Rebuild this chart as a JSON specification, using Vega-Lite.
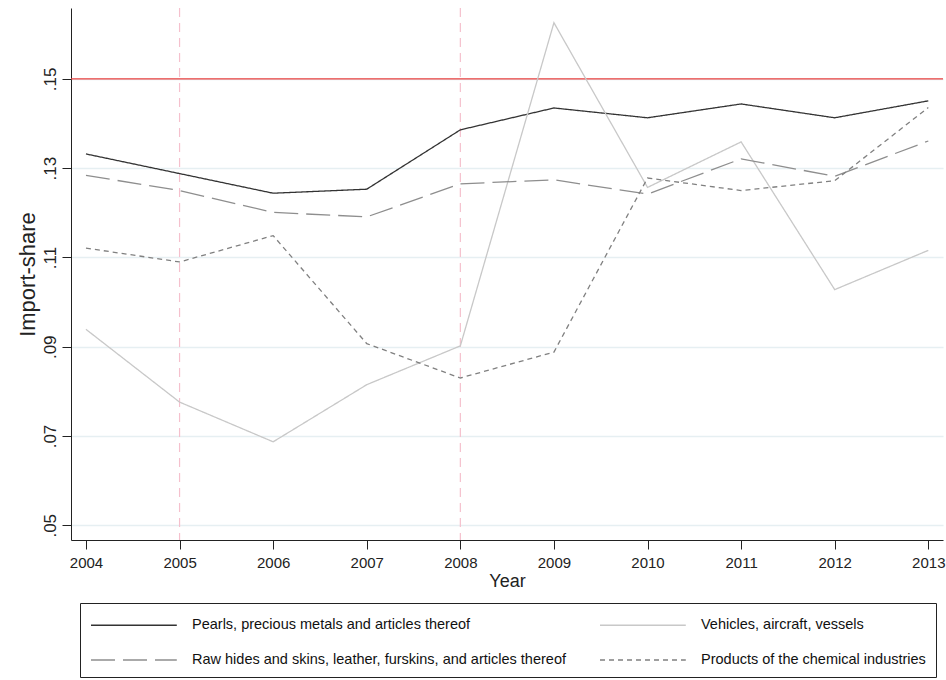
{
  "$schema": "https://vega.github.io/schema/vega-lite/v6.json",
  "width": 872,
  "height": 532,
  "autosize": {"type": "none"},
  "padding": {"left": 71, "top": 8, "right": 3, "bottom": 140},
  "background": "white",
  "config": {
    "view": {"stroke": null},
    "font": "Liberation Sans",
    "axis": {"labelColor": "#222", "titleColor": "#222", "tickColor": "#222", "domainColor": "#222", "titleFontWeight": "normal", "labelFlush": false, "labelOverlap": false}
  },
  "datasets": {
    "series": [
      {"series": "Pearls, precious metals and articles thereof", "year": 2004, "share": 0.1332},
      {"series": "Pearls, precious metals and articles thereof", "year": 2005, "share": 0.1288},
      {"series": "Pearls, precious metals and articles thereof", "year": 2006, "share": 0.1244},
      {"series": "Pearls, precious metals and articles thereof", "year": 2007, "share": 0.1253},
      {"series": "Pearls, precious metals and articles thereof", "year": 2008, "share": 0.1386},
      {"series": "Pearls, precious metals and articles thereof", "year": 2009, "share": 0.1435},
      {"series": "Pearls, precious metals and articles thereof", "year": 2010, "share": 0.1413},
      {"series": "Pearls, precious metals and articles thereof", "year": 2011, "share": 0.1444},
      {"series": "Pearls, precious metals and articles thereof", "year": 2012, "share": 0.1413},
      {"series": "Pearls, precious metals and articles thereof", "year": 2013, "share": 0.1451},
      {"series": "Vehicles, aircraft, vessels", "year": 2004, "share": 0.0939},
      {"series": "Vehicles, aircraft, vessels", "year": 2005, "share": 0.0776},
      {"series": "Vehicles, aircraft, vessels", "year": 2006, "share": 0.0687},
      {"series": "Vehicles, aircraft, vessels", "year": 2007, "share": 0.0815},
      {"series": "Vehicles, aircraft, vessels", "year": 2008, "share": 0.0902},
      {"series": "Vehicles, aircraft, vessels", "year": 2009, "share": 0.1626},
      {"series": "Vehicles, aircraft, vessels", "year": 2010, "share": 0.1257},
      {"series": "Vehicles, aircraft, vessels", "year": 2011, "share": 0.1359},
      {"series": "Vehicles, aircraft, vessels", "year": 2012, "share": 0.1028},
      {"series": "Vehicles, aircraft, vessels", "year": 2013, "share": 0.1116},
      {"series": "Raw hides and skins, leather, furskins, and articles thereof", "year": 2004, "share": 0.1284},
      {"series": "Raw hides and skins, leather, furskins, and articles thereof", "year": 2005, "share": 0.125},
      {"series": "Raw hides and skins, leather, furskins, and articles thereof", "year": 2006, "share": 0.1201},
      {"series": "Raw hides and skins, leather, furskins, and articles thereof", "year": 2007, "share": 0.1191},
      {"series": "Raw hides and skins, leather, furskins, and articles thereof", "year": 2008, "share": 0.1265},
      {"series": "Raw hides and skins, leather, furskins, and articles thereof", "year": 2009, "share": 0.1274},
      {"series": "Raw hides and skins, leather, furskins, and articles thereof", "year": 2010, "share": 0.1242},
      {"series": "Raw hides and skins, leather, furskins, and articles thereof", "year": 2011, "share": 0.1321},
      {"series": "Raw hides and skins, leather, furskins, and articles thereof", "year": 2012, "share": 0.1282},
      {"series": "Raw hides and skins, leather, furskins, and articles thereof", "year": 2013, "share": 0.1361},
      {"series": "Products of the chemical industries", "year": 2004, "share": 0.1121},
      {"series": "Products of the chemical industries", "year": 2005, "share": 0.109},
      {"series": "Products of the chemical industries", "year": 2006, "share": 0.1149},
      {"series": "Products of the chemical industries", "year": 2007, "share": 0.0907},
      {"series": "Products of the chemical industries", "year": 2008, "share": 0.083},
      {"series": "Products of the chemical industries", "year": 2009, "share": 0.0888},
      {"series": "Products of the chemical industries", "year": 2010, "share": 0.1278},
      {"series": "Products of the chemical industries", "year": 2011, "share": 0.125},
      {"series": "Products of the chemical industries", "year": 2012, "share": 0.1272},
      {"series": "Products of the chemical industries", "year": 2013, "share": 0.1436}
    ],
    "markers": [{"year": 2005}, {"year": 2008}],
    "threshold": [{"share": 0.15}]
  },
  "layer": [
    {
      "data": {"name": "markers"},
      "mark": {"type": "rule", "color": "#f5c0cd", "strokeWidth": 1.2, "strokeDash": [9, 6]},
      "encoding": {
        "x": {"field": "year", "type": "quantitative", "title": "Year", "scale": {"domain": [2003.84, 2013.157], "nice": false, "zero": false}}
      }
    },
    {
      "data": {"name": "threshold"},
      "mark": {"type": "rule", "color": "#e8403f", "strokeWidth": 1.3},
      "encoding": {
        "y": {"field": "share", "type": "quantitative", "title": "Import-share", "scale": {"domain": [0.0467, 0.1659], "nice": false, "zero": false}}
      }
    },
    {
      "data": {"name": "series"},
      "mark": {"type": "line", "strokeWidth": 1.3},
      "encoding": {
        "x": {
          "field": "year", "type": "quantitative", "title": "Year",
          "scale": {"domain": [2003.84, 2013.157], "nice": false, "zero": false},
          "axis": {"values": [2004, 2005, 2006, 2007, 2008, 2009, 2010, 2011, 2012, 2013], "format": "d", "labelFontSize": 15, "tickSize": 9, "labelPadding": 6, "grid": false, "titleFontSize": 18, "titlePadding": 2}
        },
        "y": {
          "field": "share", "type": "quantitative", "title": "Import-share",
          "scale": {"domain": [0.0467, 0.1659], "nice": false, "zero": false},
          "axis": {"values": [0.05, 0.07, 0.09, 0.11, 0.13, 0.15], "labelExpr": "substring(format(datum.value, '.2f'), 1)", "labelAngle": -90, "labelAlign": "center", "labelBaseline": "alphabetic", "labelFontSize": 17, "labelPadding": 7, "tickSize": 9, "grid": true, "gridColor": "#e6eff2", "gridWidth": 1.6, "titleFontSize": 22, "titlePadding": 2}
        },
        "color": {
          "field": "series", "type": "nominal",
          "scale": {
            "domain": ["Pearls, precious metals and articles thereof", "Vehicles, aircraft, vessels", "Raw hides and skins, leather, furskins, and articles thereof", "Products of the chemical industries"],
            "range": ["#333333", "#c8c8c8", "#8e8e8e", "#808080"]
          },
          "legend": {
            "title": null, "orient": "none", "legendX": 9, "legendY": 595, "columns": 2, "direction": "horizontal",
            "symbolType": "M-1,0H6.8", "symbolSize": 484, "symbolStrokeWidth": 1.3,
            "labelFontSize": 14.5, "labelColor": "#111", "labelOffset": 78, "labelLimit": 0,
            "columnPadding": 31, "rowPadding": 16, "padding": 10,
            "strokeColor": "#222", "fillColor": "white"
          }
        },
        "strokeDash": {
          "field": "series", "type": "nominal",
          "scale": {
            "domain": ["Pearls, precious metals and articles thereof", "Vehicles, aircraft, vessels", "Raw hides and skins, leather, furskins, and articles thereof", "Products of the chemical industries"],
            "range": [[1, 0], [1, 0], [24, 8], [5, 4]]
          },
          "legend": {
            "title": null, "orient": "none", "legendX": 9, "legendY": 595, "columns": 2, "direction": "horizontal",
            "symbolType": "M-1,0H6.8", "symbolSize": 484, "symbolStrokeWidth": 1.3,
            "labelFontSize": 14.5, "labelColor": "#111", "labelOffset": 78, "labelLimit": 0,
            "columnPadding": 31, "rowPadding": 16, "padding": 10,
            "strokeColor": "#222", "fillColor": "white"
          }
        }
      }
    }
  ]
}
